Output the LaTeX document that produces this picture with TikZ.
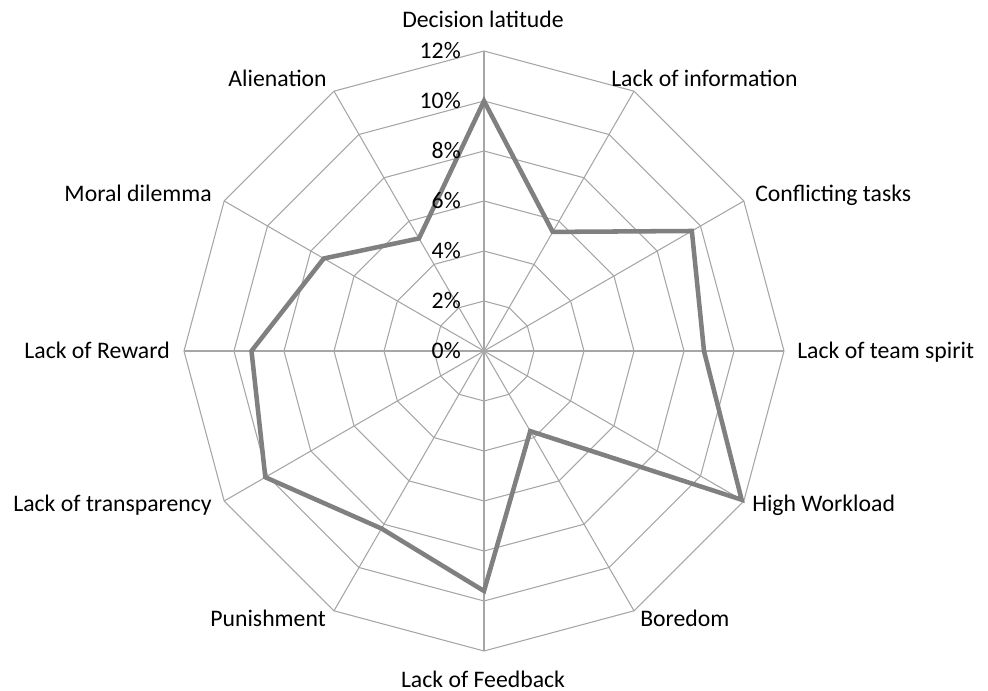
\documentclass[tikz,border=0pt]{standalone}
\usepackage{fontspec}
\setmainfont{Carlito}
\usetikzlibrary{calc}

\begin{document}
\begin{tikzpicture}[x=0.75pt,y=0.75pt,
    grid/.style={draw=black!35, line width=0.8pt},
    series/.style={draw=black!50, line width=3.4pt, line join=miter},
    axislabel/.style={font=\fontsize{17.8}{21}\selectfont, inner sep=0pt},
    ticklabel/.style={font=\fontsize{17.8}{21}\selectfont, inner sep=0pt, anchor=base east}]
  \useasboundingbox (-484,-340) rectangle (504,351);

  \coordinate (o) at (0,0);

  % spokes
  \foreach \k in {0,...,11} {
    \coordinate (s\k) at ({90-30*\k}:300);
    \draw[grid] (o) -- (s\k);
  }
  % rings
  \foreach \r in {50,100,...,300} {
    \draw[grid] (90:\r) \foreach \k in {1,...,11} { -- ({90-30*\k}:\r) } -- cycle;
  }

  % data
  \foreach \v [count=\k from 0] in {10,5.5,9.6,8.8,11.9,3.7,9.6,8.2,10.1,9.3,7.4,5.2}
    \coordinate (v\k) at ({90-30*\k}:25*\v);
  \draw[series] (v0) -- (v1) -- (v2) -- (v3) -- (v4) -- (v5) -- (v6)
    -- (v7) -- (v8) -- (v9) -- (v10) -- (v11) -- cycle;

  % scale
  \foreach \p in {0,...,6}
    \node[ticklabel] (t\p) at (-23,50*\p-8) {\number\numexpr2*\p\relax\%};

  \node[axislabel, anchor=base] (dl) at (-1,323) {Decision latitude};
  \node[axislabel, anchor=base west] (li) at (127,264) {Lack of information};
  \node[axislabel, anchor=base west] (ct) at (271,149) {Conflicting tasks};
  \node[axislabel, anchor=base west] (ts) at (313,-8) {Lack of team spirit};
  \node[axislabel, anchor=base west] (hw) at (268,-161) {High Workload};
  \node[axislabel, anchor=base west] (bo) at (156,-276) {Boredom};
  \node[axislabel, anchor=base] (lf) at (-1,-336) {Lack of Feedback};
  \node[axislabel, anchor=base east] (pu) at (-158,-276) {Punishment};
  \node[axislabel, anchor=base east] (lt) at (-272,-161) {Lack of transparency};
  \node[axislabel, anchor=base east] (lr) at (-314,-8) {Lack of Reward};
  \node[axislabel, anchor=base east] (md) at (-272,149) {Moral dilemma};
  \node[axislabel, anchor=base east] (al) at (-157,264) {Alienation};
\end{tikzpicture}
\end{document}
